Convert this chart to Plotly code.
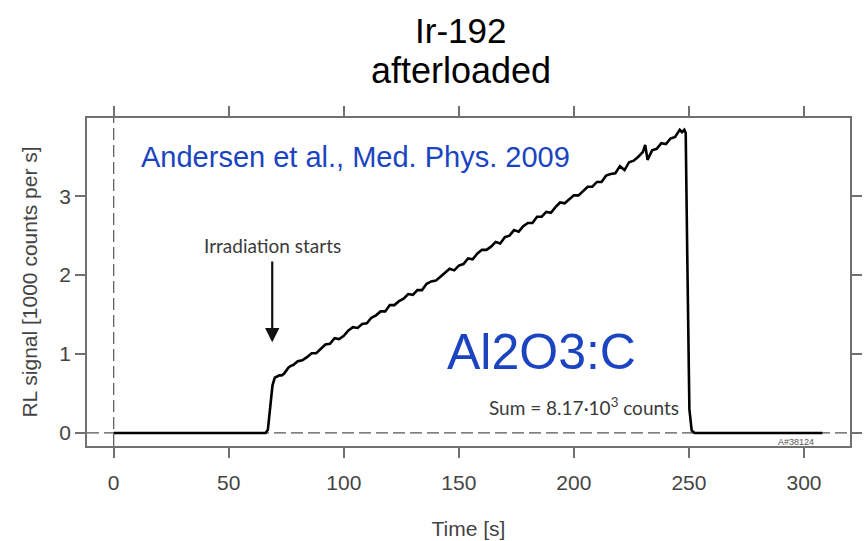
import plotly.graph_objects as go

# --- data ---
time_s = [0, 66, 67, 68, 69, 70, 71, 72, 73, 74, 75, 76, 77,
          78, 80, 82, 84, 86, 88, 90, 92, 94, 96, 98, 100,
          102, 104, 106, 108, 110, 112, 114, 116, 118, 120,
          122, 124, 126, 128, 130, 132, 134, 136, 138, 140,
          142, 144, 146, 148, 150, 152, 154, 156, 158, 160,
          162, 164, 166, 168, 170, 172, 174, 176, 178, 180,
          182, 184, 186, 188, 190, 192, 194, 196, 198, 200,
          202, 204, 206, 208, 210, 212, 214, 216, 218, 220,
          222, 224, 226, 228, 230, 231, 232, 234, 236, 238, 240,
          242, 244, 246, 247, 248, 248.6, 249.3, 250.2, 251.2, 252.5, 308]
rl_signal = [0, 0, 0.04, 0.30, 0.60, 0.70, 0.72, 0.73, 0.73, 0.75, 0.79, 0.83, 0.85,
             0.86, 0.91, 0.92, 0.96, 1.01, 1.01, 1.07, 1.12, 1.13, 1.20, 1.19, 1.23,
             1.30, 1.34, 1.33, 1.38, 1.39, 1.46, 1.49, 1.54, 1.54, 1.62,
             1.62, 1.67, 1.70, 1.76, 1.75, 1.81, 1.81, 1.89, 1.92, 1.93,
             1.98, 2.03, 2.08, 2.06, 2.12, 2.14, 2.21, 2.20, 2.27, 2.32,
             2.32, 2.36, 2.42, 2.40, 2.48, 2.50, 2.57, 2.55, 2.62, 2.66,
             2.66, 2.74, 2.74, 2.80, 2.79, 2.86, 2.92, 2.91, 2.96, 3.01,
             3.01, 3.07, 3.12, 3.12, 3.18, 3.18, 3.26, 3.28, 3.29, 3.38,
             3.33, 3.43, 3.45, 3.50, 3.56, 3.65, 3.46, 3.58, 3.60, 3.67, 3.66,
             3.73, 3.75, 3.84, 3.81, 3.84, 3.80, 2.20, 0.30, 0.03, 0.0, 0.0]

x_ticks = [0, 50, 100, 150, 200, 250, 300]
y_ticks = [0, 1, 2, 3]

FONT = "Liberation Sans, Arial, sans-serif"
GREY = "#444444"
BLUE = "#1a44c0"

fig = go.Figure()
fig.add_trace(go.Scatter(x=time_s, y=rl_signal, mode="lines",
                         line=dict(color="black", width=2.6),
                         hoverinfo="skip", showlegend=False))

# dashed reference lines at x=0 and y=0
fig.add_shape(type="line", xref="x", yref="y domain", x0=0, x1=0, y0=0, y1=1,
              line=dict(color="#555555", width=1.2, dash="12px,5px"), layer="below")
fig.add_shape(type="line", xref="x domain", yref="y", x0=0, x1=1, y0=0, y1=0,
              line=dict(color="#555555", width=1.2, dash="12px,5px"), layer="below")

axis_common = dict(showgrid=False, zeroline=False, showline=True, linecolor="#707070",
                   linewidth=1.5, mirror="ticks", ticks="outside", ticklen=10,
                   tickwidth=1.5, tickcolor="#707070",
                   tickfont=dict(family=FONT, size=21, color=GREY))

fig.update_xaxes(range=[-11.6, 320], tickvals=x_ticks, ticklabelstandoff=7, **axis_common,
                 title=dict(text="Time [s]", font=dict(family=FONT, size=21, color=GREY),
                            standoff=28))
fig.update_yaxes(range=[-0.165, 3.99], tickvals=y_ticks, **axis_common,
                 title=dict(text="RL signal [1000 counts per s]",
                            font=dict(family=FONT, size=21, color=GREY), standoff=16))

annotations = [
    dict(text="Ir-192", xref="paper", yref="paper", x=0.49, y=1.268, showarrow=False,
         font=dict(family=FONT, size=35, color="black"), xanchor="center", yanchor="middle"),
    dict(text="afterloaded", xref="paper", yref="paper", x=0.49, y=1.146, showarrow=False,
         font=dict(family=FONT, size=36, color="black"), xanchor="center", yanchor="middle"),
    dict(text="Andersen et al., Med. Phys. 2009", x=11.1, y=3.49, showarrow=False,
         xanchor="left", yanchor="middle", font=dict(family=FONT, size=29, color=BLUE)),
    dict(text="Al2O3:C", x=186, y=1.03, showarrow=False, xanchor="center", yanchor="middle",
         font=dict(family=FONT, size=50, color=BLUE)),
    dict(text="Irradiation starts", x=68.9, y=2.38, showarrow=False, xanchor="center",
         yanchor="middle", font=dict(family="Lato, Noto Sans, sans-serif", size=19, color="#3a3a3a")),
    dict(text="", x=68.9, y=1.15, ax=68.9, ay=2.19, axref="x", ayref="y", showarrow=True,
         arrowhead=2, arrowsize=1.3, arrowwidth=2.2, arrowcolor="#111111"),
    dict(text="Sum = 8.17·10<sup>3</sup> counts", x=162.2, y=0.33, showarrow=False,
         xanchor="left", yanchor="middle",
         font=dict(family="Lato, Noto Sans, sans-serif", size=19, color="#3a3a3a")),
    dict(text="A#38124", x=296.5, y=-0.11, showarrow=False, xanchor="center", yanchor="middle",
         font=dict(family=FONT, size=9, color="#555555")),
]
fig.update_layout(width=865, height=541, margin=dict(l=87, r=3, t=118, b=95),
                  paper_bgcolor="white", plot_bgcolor="white", annotations=annotations,
                  font=dict(family=FONT))

fig.write_html("out.html")
